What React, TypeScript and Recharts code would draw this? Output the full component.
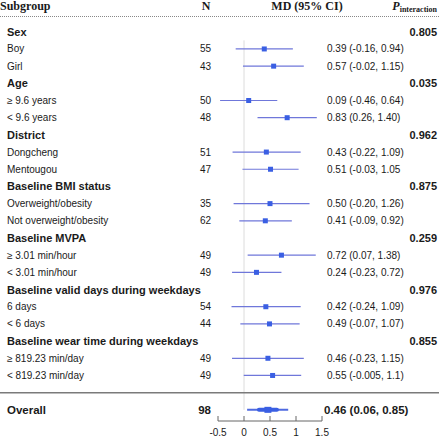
import { ScatterChart, Scatter, XAxis, YAxis, ErrorBar, ReferenceLine } from 'recharts';

// subgroup headings and their interaction p-values
const groups = [
  'Sex',
  'Age',
  'District',
  'Baseline BMI status',
  'Baseline MVPA',
  'Baseline valid days during weekdays',
  'Baseline wear time during weekdays',
];
const pInteraction = ['0.805', '0.035', '0.962', '0.875', '0.259', '0.976', '0.855'];

// two levels per group, in order
const levels = [
  'Boy', 'Girl',
  '≥ 9.6 years', '< 9.6 years',
  'Dongcheng', 'Mentougou',
  'Overweight/obesity', 'Not overweight/obesity',
  '≥ 3.01 min/hour', '< 3.01 min/hour',
  '6 days', '< 6 days',
  '≥ 819.23 min/day', '< 819.23 min/day',
];
const sampleN = [55, 43, 50, 48, 51, 47, 35, 62, 49, 49, 54, 44, 49, 49];
const md = [0.39, 0.57, 0.09, 0.83, 0.43, 0.51, 0.5, 0.41, 0.72, 0.24, 0.42, 0.49, 0.46, 0.55];
const ciLow = [-0.16, -0.02, -0.46, 0.26, -0.22, -0.03, -0.2, -0.09, 0.07, -0.23, -0.24, -0.07, -0.23, -0.005];
const ciHigh = [0.94, 1.15, 0.64, 1.4, 1.09, 1.05, 1.26, 0.92, 1.38, 0.72, 1.09, 1.07, 1.15, 1.1];
const ciText = [
  '0.39 (-0.16, 0.94)', '0.57 (-0.02, 1.15)',
  '0.09 (-0.46, 0.64)', '0.83 (0.26, 1.40)',
  '0.43 (-0.22, 1.09)', '0.51 (-0.03, 1.05',
  '0.50 (-0.20, 1.26)', '0.41 (-0.09, 0.92)',
  '0.72 (0.07, 1.38)', '0.24 (-0.23, 0.72)',
  '0.42 (-0.24, 1.09)', '0.49 (-0.07, 1.07)',
  '0.46 (-0.23, 1.15)', '0.55 (-0.005, 1.1)',
];

const overallN = 98;
const overallMd = 0.46;
const overallLow = 0.06;
const overallHigh = 0.85;
const overallText = '0.46 (0.06, 0.85)';

const xTicks = [-0.5, 0, 0.5, 1, 1.5];

const HEADER_ROW = -1.5;
const RULE_ROW = 21;
const OVERALL_ROW = 22;

const sans = '"Liberation Sans", Arial, sans-serif';
const serif = '"Liberation Serif", "Times New Roman", serif';
const TEXT = '#1a1a1a';

type Row =
  | { kind: 'group'; label: string; p: string }
  | { kind: 'level'; label: string; n: number; ci: string };

const rowMap: Record<number, Row> = {};
groups.forEach((g, gi) => {
  rowMap[gi * 3] = { kind: 'group', label: g, p: pInteraction[gi] };
  [0, 1].forEach(k => {
    const i = gi * 2 + k;
    rowMap[gi * 3 + k + 1] = { kind: 'level', label: levels[i], n: sampleN[i], ci: ciText[i] };
  });
});

const points = levels.map((_, i) => ({
  x: md[i],
  y: Math.floor(i / 2) * 3 + (i % 2) + 1,
  err: [md[i] - ciLow[i], ciHigh[i] - md[i]],
}));

const overall = [{ x: overallMd, y: OVERALL_ROW, err: [overallMd - overallLow, overallHigh - overallMd] }];

const yTicks = [HEADER_ROW, ...Object.keys(rowMap).map(Number), RULE_ROW, OVERALL_ROW];

const RowTick = ({ y, payload }: any) => {
  const v = payload.value;
  if (v === HEADER_ROW) {
    return (
      <g fontFamily={serif} fontWeight="bold" fill={TEXT} fontSize={12}>
        <text x={0} y={y} dominantBaseline="central">Subgroup</text>
        <text x={206} y={y} dominantBaseline="central" textAnchor="middle">N</text>
        <text x={307} y={y} dominantBaseline="central" textAnchor="middle">MD (95% CI)</text>
        <text x={437} y={y} dominantBaseline="central" textAnchor="end">
          <tspan fontStyle="italic">P</tspan>
          <tspan fontSize={8} dy={3}>interaction</tspan>
        </text>
      </g>
    );
  }
  if (v === RULE_ROW) {
    return <line x1={0} x2={439} y1={y} y2={y} stroke="#7a7a7a" strokeWidth={1.5} />;
  }
  if (v === OVERALL_ROW) {
    return (
      <g fontFamily={sans} fontWeight="bold" fill={TEXT} fontSize={11.5}>
        <text x={7} y={y} dominantBaseline="central">Overall</text>
        <text x={211} y={y} dominantBaseline="central" textAnchor="end">{overallN}</text>
        <text x={324} y={y} dominantBaseline="central">{overallText}</text>
      </g>
    );
  }
  const row = rowMap[v];
  if (!row) return null;
  if (row.kind === 'group') {
    return (
      <g fontFamily={sans} fontWeight="bold" fill={TEXT} fontSize={11}>
        <text x={7} y={y} dominantBaseline="central">{row.label}</text>
        <text x={437} y={y} dominantBaseline="central" textAnchor="end">{row.p}</text>
      </g>
    );
  }
  return (
    <g fontFamily={sans} fill={TEXT} fontSize={10}>
      <text x={7} y={y} dominantBaseline="central">{row.label}</text>
      <text x={211} y={y} dominantBaseline="central" textAnchor="end">{row.n}</text>
      <text x={327} y={y} dominantBaseline="central">{row.ci}</text>
    </g>
  );
};

const AxisTick = ({ x, y, payload }: any) => (
  <g>
    <line x1={x} x2={x} y1={y - 5} y2={y} stroke="#666" />
    <text x={x} y={y + 15} textAnchor="middle" fontFamily={sans} fontSize={10} fill={TEXT}>
      {payload.value}
    </text>
  </g>
);

const Square = ({ cx, cy }: any) => <rect x={cx - 2.5} y={cy - 2.5} width={5} height={5} fill="#3a5fe3" />;

const Diamond = ({ cx, cy }: any) => (
  <g fill="#3a5fe3">
    <rect x={cx - 11} y={cy - 2} width={22} height={4} rx={2} />
    <rect x={cx - 3.5} y={cy - 3} width={7} height={6} />
  </g>
);

export default function App() {
  return (
    <div style={{ position: 'absolute', left: 0, top: 0, width: 439, height: 440 }}>
      {/* dotted rule under the column headings */}
      <div
        style={{
          position: 'absolute',
          left: 0,
          top: 16,
          width: 439,
          height: 0,
          borderTop: '1px dotted #888',
        }}
      />
      <ScatterChart width={439} height={440} margin={{ top: 6, right: 117, bottom: 0, left: 0 }}>
        <XAxis
          type="number"
          dataKey="x"
          domain={[-0.5, 1.5]}
          ticks={xTicks}
          height={19}
          tickSize={0}
          tickMargin={0}
          tickLine={false}
          axisLine={{ stroke: '#666' }}
          tick={<AxisTick />}
          allowDataOverflow
        />
        <YAxis
          type="number"
          dataKey="y"
          domain={[HEADER_ROW, 22.65]}
          reversed
          width={218}
          ticks={yTicks}
          interval={0}
          axisLine={false}
          tickLine={false}
          tick={<RowTick />}
        />
        <ReferenceLine
          segment={[{ x: 0, y: 0.5 }, { x: 0, y: OVERALL_ROW }]}
          stroke="#dcdcdc"
        />
        <Scatter data={points} shape={<Square />} isAnimationActive={false}>
          <ErrorBar dataKey="err" direction="x" width={0} stroke="#6f77da" strokeWidth={1.2} />
        </Scatter>
        <Scatter data={overall} shape={<Diamond />} isAnimationActive={false}>
          <ErrorBar dataKey="err" direction="x" width={0} stroke="#4f6ae0" strokeWidth={2} />
        </Scatter>
      </ScatterChart>
    </div>
  );
}
